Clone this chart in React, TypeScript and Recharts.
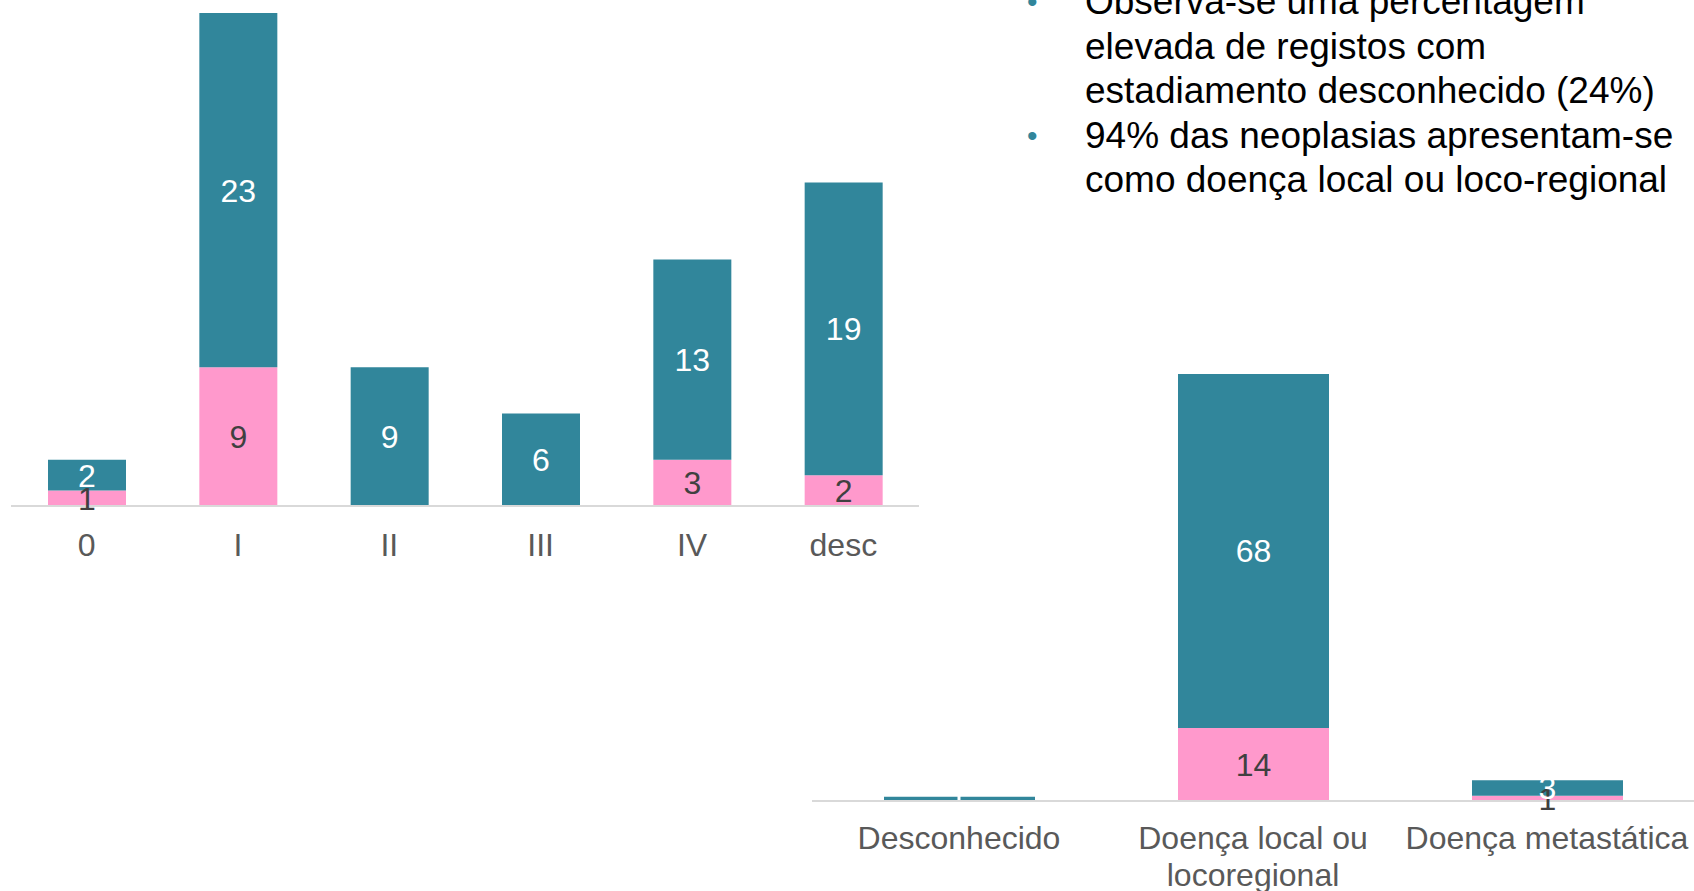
import React from "react";
import { BarChart, Bar, XAxis, YAxis, LabelList, ReferenceLine } from "recharts";

// Stage chart (left)
const stageCategories = ["0", "I", "II", "III", "IV", "desc"];
const stagePink = [1, 9, 0, 0, 3, 2];
const stageTeal = [2, 23, 9, 6, 13, 19];

// Disease extent chart (bottom right)
const extentCategories = ["Desconhecido", "Doença local ou locoregional", "Doença metastática"];
const extentPink = [0, 14, 1];
const extentTeal = [0.8, 68, 3];

const bulletItems = [
  ["Observa-se uma percentagem", "elevada de registos com", "estadiamento desconhecido (24%)"],
  ["94% das neoplasias apresentam-se", "como doença local ou loco-regional"],
];

const TEAL = "#31869B";
const PINK = "#FF99CC";
const FONT = "'Liberation Sans', Arial, sans-serif";

const stageData = stageCategories.map((name, i) => ({ name, pink: stagePink[i], teal: stageTeal[i] }));
const extentData = extentCategories.map((name, i) => ({ name, pink: extentPink[i], teal: extentTeal[i] }));

// greedy wrap by character count
const wrapLabel = (label: string, max = 18) => {
  const lines: string[] = [];
  let cur = "";
  label.split(" ").forEach((w) => {
    const next = cur ? cur + " " + w : w;
    if (next.length > max && cur) {
      lines.push(cur);
      cur = w;
    } else cur = next;
  });
  if (cur) lines.push(cur);
  return lines;
};

const makeTick = (offset: number, lineHeight: number) => (props: any) => {
  const { x, y, payload } = props;
  const lines = wrapLabel(String(payload.value));
  return (
    <text x={x} y={y + offset} textAnchor="middle" fill="#595959" fontSize={32} fontFamily={FONT}>
      {lines.map((l, i) => (
        <tspan key={i} x={x} dy={i === 0 ? 0 : lineHeight}>
          {l}
        </tspan>
      ))}
    </text>
  );
};

const showValue = (v: any) => (Number(v) >= 1 ? v : "");

export default function App() {
  return (
    <div
      style={{
        position: "absolute",
        left: 0,
        top: 0,
        width: 1694,
        height: 891,
        overflow: "hidden",
        background: "#fff",
        fontFamily: FONT,
      }}
    >
      {/* Stage chart */}
      <div style={{ position: "absolute", left: 0, top: 0 }}>
        <BarChart
          width={940}
          height={575}
          data={stageData}
          margin={{ top: 13, right: 21, left: 11, bottom: 0 }}
          barSize={78}
        >
          <XAxis
            dataKey="name"
            height={69}
            tickSize={0}
            tickMargin={0}
            axisLine={{ stroke: "#D9D9D9", strokeWidth: 2 }}
            tickLine={false}
            tick={makeTick(50, 37)}
            interval={0}
          />
          <YAxis hide domain={[0, 32]} />
          <Bar dataKey="pink" stackId="a" fill={PINK} isAnimationActive={false}>
            <LabelList dataKey="pink" position="center" fill="#404040" fontSize={32} formatter={showValue} />
          </Bar>
          <Bar dataKey="teal" stackId="a" fill={TEAL} isAnimationActive={false}>
            <LabelList dataKey="teal" position="center" fill="#ffffff" fontSize={32} formatter={showValue} />
          </Bar>
        </BarChart>
      </div>

      {/* Disease extent chart */}
      <div style={{ position: "absolute", left: 800, top: 300 }}>
        <BarChart
          width={894}
          height={591}
          data={extentData}
          margin={{ top: 74, right: 0, left: 12, bottom: 0 }}
          barSize={151}
        >
          <XAxis
            dataKey="name"
            height={90}
            tickSize={0}
            tickMargin={0}
            axisLine={{ stroke: "#D9D9D9", strokeWidth: 2 }}
            tickLine={false}
            tick={makeTick(48, 37)}
            interval={0}
          />
          <YAxis hide domain={[0, 82]} />
          <Bar dataKey="pink" stackId="a" fill={PINK} isAnimationActive={false}>
            <LabelList dataKey="pink" position="center" fill="#404040" fontSize={32} formatter={showValue} />
          </Bar>
          <Bar dataKey="teal" stackId="a" fill={TEAL} isAnimationActive={false}>
            <LabelList dataKey="teal" position="center" fill="#ffffff" fontSize={32} formatter={showValue} />
          </Bar>
          <ReferenceLine
            segment={[
              { x: "Desconhecido", y: 0 },
              { x: "Desconhecido", y: 1 },
            ]}
            stroke="#ffffff"
            strokeWidth={3}
          />
        </BarChart>
      </div>

      {/* Bullet notes */}
      <div style={{ position: "absolute", left: 1085, top: -20, fontSize: 37, lineHeight: "44.5px", color: "#000" }}>
        {bulletItems.map((lines, i) => (
          <div key={i} style={{ position: "relative" }}>
            <span style={{ position: "absolute", left: -58, color: TEAL, fontSize: 30 }}>•</span>
            {lines.map((l, j) => (
              <div key={j} style={{ whiteSpace: "nowrap" }}>
                {l}
              </div>
            ))}
          </div>
        ))}
      </div>
    </div>
  );
}
